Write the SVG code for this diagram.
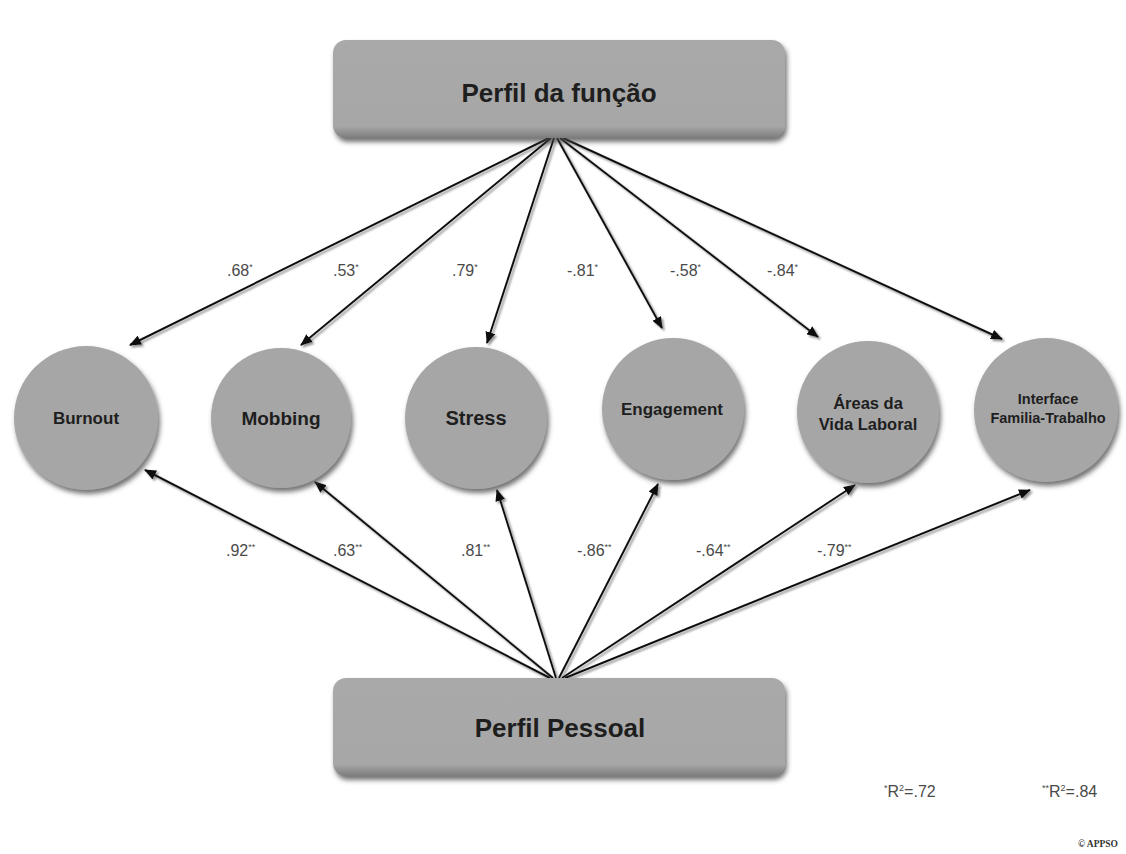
<svg xmlns="http://www.w3.org/2000/svg" width="1126" height="854" viewBox="0 0 1126 854">
<style>
.node-label{font-family:"Liberation Sans",Arial,sans-serif;font-weight:bold;fill:#1e1e1e;text-anchor:middle}
.coef{font-family:"Liberation Sans Narrow","Liberation Sans",Arial,sans-serif;font-size:16px;fill:#4a4a4a}
.sup{font-size:9px}
.edge{stroke:#111;stroke-width:2;fill:none;marker-end:url(#arrow)}
.circ{fill:#a6a6a6;filter:url(#shadow)}
.box{fill:url(#boxgrad);filter:url(#shadow)}
</style>
<defs>
<marker id="arrow" markerUnits="userSpaceOnUse" markerWidth="12" markerHeight="10" refX="11" refY="5" orient="auto">
<path d="M0,0 L12,5 L0,10 Z" fill="#111"/>
</marker>
<filter id="shadow" x="-20%" y="-20%" width="140%" height="150%">
<feDropShadow dx="2" dy="4" stdDeviation="2.5" flood-color="#444" flood-opacity="0.75"/>
</filter>
<filter id="lshadow" x="-10%" y="-10%" width="120%" height="120%">
<feDropShadow dx="2" dy="2" stdDeviation="1.2" flood-color="#777" flood-opacity="0.8"/>
</filter>
<linearGradient id="boxgrad" x1="0" y1="0" x2="0" y2="1">
<stop offset="0" stop-color="#a9a9a9"/>
<stop offset="0.88" stop-color="#a7a7a7"/>
<stop offset="1" stop-color="#7c7c7c"/>
</linearGradient>
</defs>
<rect width="1126" height="854" fill="#ffffff"/>

<g id="connectors" filter="url(#lshadow)">
<line class="edge" x1="549" y1="138" x2="130" y2="345"/>
<line class="edge" x1="551" y1="138" x2="301" y2="345"/>
<line class="edge" x1="554" y1="138" x2="487" y2="343"/>
<line class="edge" x1="557" y1="138" x2="662" y2="328"/>
<line class="edge" x1="560" y1="138" x2="818" y2="337"/>
<line class="edge" x1="563" y1="138" x2="1002" y2="339"/>
<line class="edge" x1="550" y1="678" x2="145" y2="470"/>
<line class="edge" x1="553" y1="678" x2="315" y2="482"/>
<line class="edge" x1="556" y1="678" x2="497" y2="490"/>
<line class="edge" x1="559" y1="678" x2="658" y2="484"/>
<line class="edge" x1="562" y1="678" x2="855" y2="485"/>
<line class="edge" x1="565" y1="678" x2="1030" y2="490"/>
</g>

<g id="coefficients">
<text class="coef" x="227" y="276">.68<tspan class="sup" dy="-6">*</tspan></text>
<text class="coef" x="333" y="276">.53<tspan class="sup" dy="-6">*</tspan></text>
<text class="coef" x="452" y="276">.79<tspan class="sup" dy="-6">*</tspan></text>
<text class="coef" x="567" y="276">-.81<tspan class="sup" dy="-6">*</tspan></text>
<text class="coef" x="670" y="276">-.58<tspan class="sup" dy="-6">*</tspan></text>
<text class="coef" x="767" y="276">-.84<tspan class="sup" dy="-6">*</tspan></text>
<text class="coef" x="226" y="556">.92<tspan class="sup" dy="-6">**</tspan></text>
<text class="coef" x="333" y="556">.63<tspan class="sup" dy="-6">**</tspan></text>
<text class="coef" x="461" y="556">.81<tspan class="sup" dy="-6">**</tspan></text>
<text class="coef" x="577" y="556">-.86<tspan class="sup" dy="-6">**</tspan></text>
<text class="coef" x="696" y="556">-.64<tspan class="sup" dy="-6">**</tspan></text>
<text class="coef" x="817" y="556">-.79<tspan class="sup" dy="-6">**</tspan></text>
</g>

<g id="perfil-funcao">
<rect class="box" x="333" y="40" width="452" height="98" rx="13"/>
<text class="node-label" x="559" y="102" font-size="26">Perfil da função</text>
</g>

<g id="perfil-pessoal">
<rect class="box" x="333" y="678" width="452" height="98" rx="13"/>
<text class="node-label" x="560" y="737" font-size="26">Perfil Pessoal</text>
</g>

<g id="burnout">
<circle class="circ" cx="86" cy="418" r="72"/>
<text class="node-label" x="86" y="424" font-size="17">Burnout</text>
</g>
<g id="mobbing">
<circle class="circ" cx="281" cy="418" r="70"/>
<text class="node-label" x="281" y="425" font-size="19">Mobbing</text>
</g>
<g id="stress">
<circle class="circ" cx="476" cy="418" r="71"/>
<text class="node-label" x="476" y="425" font-size="20">Stress</text>
</g>
<g id="engagement">
<circle class="circ" cx="673" cy="409" r="71"/>
<text class="node-label" x="672" y="415" font-size="17">Engagement</text>
</g>
<g id="areas">
<circle class="circ" cx="868" cy="412" r="71"/>
<text class="node-label" x="868" y="409" font-size="16.5">Áreas da</text>
<text class="node-label" x="868" y="430" font-size="16.5">Vida Laboral</text>
</g>
<g id="interface">
<circle class="circ" cx="1046" cy="410" r="72"/>
<text class="node-label" x="1048" y="404" font-size="14.5">Interface</text>
<text class="node-label" x="1048" y="423" font-size="14.5">Familia-Trabalho</text>
</g>

<g id="legend">
<text class="coef" x="884" y="797"><tspan class="sup" dy="-6">*</tspan><tspan dy="6">R</tspan><tspan class="sup" dy="-6">2</tspan><tspan dy="6">=.72</tspan></text>
<text class="coef" x="1042" y="797"><tspan class="sup" dy="-6">**</tspan><tspan dy="6">R</tspan><tspan class="sup" dy="-6">2</tspan><tspan dy="6">=.84</tspan></text>
<text x="1118" y="847" text-anchor="end" font-family="Liberation Serif,serif" font-weight="bold" font-size="9.5" fill="#333">© APPSO</text>
</g>
</svg>
